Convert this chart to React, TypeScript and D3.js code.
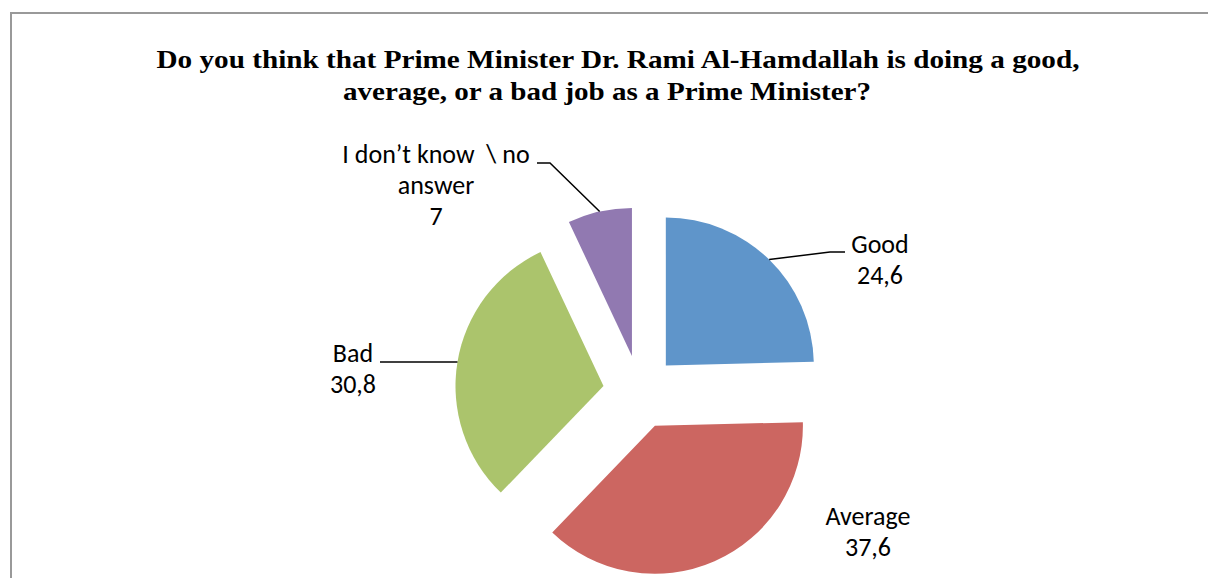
import React from "react";
import * as d3 from "d3";

const categories = ["Good", "Average", "Bad", "I don’t know  \\ no answer"];
const values = [24.6, 37.6, 30.8, 7];
const valueLabels = ["24,6", "37,6", "30,8", "7"];
const colors = ["#5F95CA", "#CC6661", "#ABC46C", "#9179B1"];
const titleLines = [
  "Do you think that Prime Minister Dr. Rami Al-Hamdallah is doing a good,",
  "average, or a bad job as a Prime Minister?",
];
const titleWidths = [923, 528];

const W = 1208;
const H = 578;
const cx = 640;
const cy = 392;
const R = 148;
const EXPLODE = 37;

// label layout: name lines, x center, first baseline, leader elbow points
const labelLayout = [
  { lines: ["Good"], x: 880, y: 253, leader: [[830, 252], [845, 252]] },
  { lines: ["Average"], x: 868, y: 525, leader: null },
  { lines: ["Bad"], x: 353, y: 362, leader: [[380, 362]] },
  { lines: ["I don’t know  \\ no", "answer"], x: 436, y: 163, leader: [[550, 163], [537, 163]] },
];

const LINE_H = 31;
const labelFont = "Carlito, Calibri, Lato, 'Liberation Sans', sans-serif";
const titleX = [618, 607];

export default function App() {
  const pie = d3.pie<number>().sort(null).value((d) => d)(values);
  const arc = d3.arc<d3.PieArcDatum<number>>().innerRadius(0).outerRadius(R);

  return (
    <svg
      width={W}
      height={H}
      style={{ position: "absolute", left: 0, top: 0, background: "#fff" }}
    >
      <rect x={11} y={13} width={W} height={H} fill="#fff" stroke="#999" strokeWidth={2} />
      {titleLines.map((t, i) => (
        <text
          key={i}
          x={titleX[i]}
          y={68 + i * 32}
          textAnchor="middle"
          fontFamily="'Liberation Serif', 'DejaVu Serif', serif"
          fontWeight="bold"
          fontSize={25}
          textLength={titleWidths[i]}
          lengthAdjust="spacingAndGlyphs"
          fill="#000"
        >
          {t}
        </text>
      ))}
      {pie.map((p, i) => {
        const mid = (p.startAngle + p.endAngle) / 2;
        const dx = Math.sin(mid) * EXPLODE;
        const dy = -Math.cos(mid) * EXPLODE;
        return (
          <path
            key={categories[i]}
            d={arc(p) || ""}
            transform={`translate(${cx + dx},${cy + dy})`}
            fill={colors[i]}
          />
        );
      })}
      {pie.map((p, i) => {
        const L = labelLayout[i];
        if (!L.leader) return null;
        const mid = (p.startAngle + p.endAngle) / 2;
        const ax = cx + Math.sin(mid) * (EXPLODE + R);
        const ay = cy - Math.cos(mid) * (EXPLODE + R);
        const pts: [number, number][] = [[ax, ay], ...(L.leader as [number, number][])];
        return (
          <path
            key={"l" + i}
            d={d3.line()(pts) || ""}
            fill="none"
            stroke="#000"
            strokeWidth={1.5}
          />
        );
      })}
      {labelLayout.map((L, i) => {
        const lines = [...L.lines, valueLabels[i]];
        return (
          <text
            key={"t" + i}
            textAnchor="middle"
            fontFamily={labelFont}
            fontSize={26}
            fill="#000"
            style={{ whiteSpace: "pre" }}
          >
            {lines.map((ln, j) => (
              <tspan key={j} x={L.x} y={L.y + j * LINE_H}>
                {ln}
              </tspan>
            ))}
          </text>
        );
      })}
    </svg>
  );
}
